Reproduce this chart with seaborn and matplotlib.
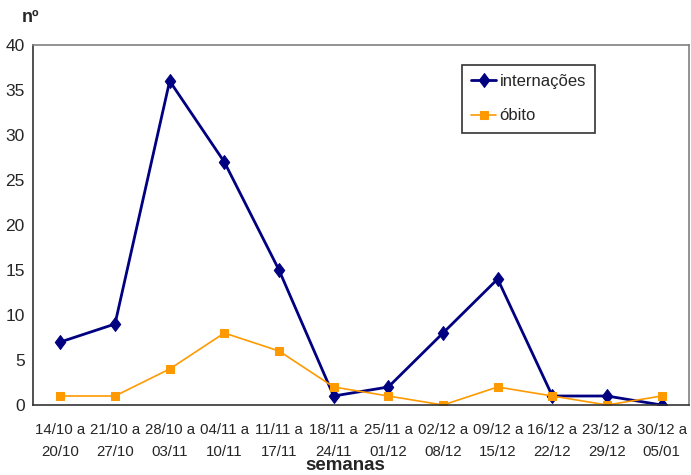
import matplotlib
matplotlib.use("Agg")
import matplotlib.pyplot as plt
import seaborn as sns
import pandas as pd
import numpy as np
from matplotlib.ticker import FixedLocator

semanas = ["14/10 a\n20/10", "21/10 a\n27/10", "28/10 a\n03/11", "04/11 a\n10/11",
           "11/11 a\n17/11", "18/11 a\n24/11", "25/11 a\n01/12", "02/12 a\n08/12",
           "09/12 a\n15/12", "16/12 a\n22/12", "23/12 a\n29/12", "30/12 a\n05/01"]
internacoes = [7, 9, 36, 27, 15, 1, 2, 8, 14, 1, 1, 0]
obito = [1, 1, 4, 8, 6, 2, 1, 0, 2, 1, 0, 1]

sns.set_style("white")
plt.rcParams['font.family'] = ['Liberation Sans', 'DejaVu Sans']

pos = list(range(len(semanas)))
df = pd.DataFrame({
    "pos": pos * 2,
    "valor": internacoes + obito,
    "serie": ["internações"] * len(pos) + ["óbito"] * len(pos),
})

diamond = [(0, -1), (0.75, 0), (0, 1), (-0.75, 0), (0, -1)]

fig = plt.figure(figsize=(6.91, 4.75), dpi=100)
ax = fig.add_axes([33/691, 70/475, 656/691, 360/475])

sns.lineplot(data=df[df.serie == "internações"], x="pos", y="valor", ax=ax,
             color="#000080", linewidth=2, marker=diamond, markersize=10,
             markeredgecolor="#000080", label="internações")
sns.lineplot(data=df[df.serie == "óbito"], x="pos", y="valor", ax=ax,
             color="#FF9900", linewidth=1.2, marker="s", markersize=6,
             markeredgecolor="#FF9900", label="óbito")

ax.set_xlim(-0.5, len(semanas) - 0.5)
ax.set_ylim(0, 40)
ax.set_yticks(range(0, 41, 5))
ax.set_xticks(pos)
ax.set_xticklabels(semanas, fontsize=10.8, linespacing=1.75)
ax.tick_params(axis="x", which="major", length=0, pad=13)
ax.xaxis.set_minor_locator(FixedLocator(np.arange(-0.5, len(semanas), 1.0)))
ax.tick_params(axis="x", which="minor", length=5, width=1, color="#333333", direction="out")
ax.tick_params(axis="y", labelsize=12.5, length=4, width=1, color="#333333", direction="out", pad=2)
ax.set_xlabel("")
ax.set_ylabel("")

for s in ["left", "bottom"]:
    ax.spines[s].set_color("#333333")
    ax.spines[s].set_linewidth(1.2)
for s in ["top", "right"]:
    ax.spines[s].set_color("#808080")
    ax.spines[s].set_linewidth(1.2)
    ax.spines[s].set_visible(True)

fig.text(22/691, 1 - 17/475, "nº", fontsize=13, fontweight="bold", ha="left", va="center")
fig.text(345/691, 1 - 466/475, "semanas", fontsize=13.5, fontweight="bold", ha="center", va="center")

leg = ax.legend(loc="upper left", bbox_to_anchor=((462-33)/656, (405-65)/360),
                borderaxespad=0, frameon=True, fancybox=False, fontsize=12,
                borderpad=0.55, handlelength=1.5, labelspacing=1.15, handletextpad=0.2)
leg.get_frame().set_edgecolor("#000000")
leg.get_frame().set_linewidth(1.2)

fig.savefig("out.png", dpi=100)
